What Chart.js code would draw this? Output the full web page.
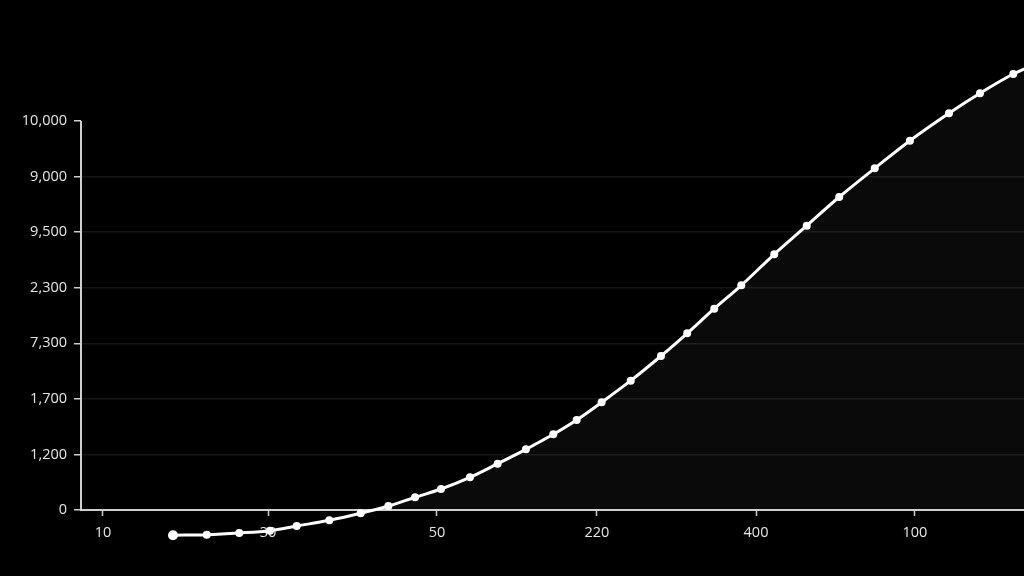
<!DOCTYPE html>
<html>
<head>
<meta charset="utf-8">
<style>
  html, body { margin: 0; padding: 0; background: #000; }
  #wrap { width: 1024px; height: 576px; }
</style>
<script src="https://cdn.jsdelivr.net/npm/chart.js@4/dist/chart.umd.min.js"></script>
</head>
<body>
<div id="wrap"><canvas id="curve"></canvas></div>
<script>
'use strict';

// tick labels as printed on the axes
const yTickLabels = ['0', '1,200', '1,700', '7,300', '2,300', '9,500', '9,000', '10,000'];
const xTickLabels = ['10', '30', '50', '220', '400', '100'];
// where the x ticks sit, in axis units (not evenly spaced)
const xTickValues = [0.1375, 1.169, 2.225, 3.225, 4.219, 5.2125];

// curve points (x in axis units, y in grid steps)
const xValues = [0.575, 0.786, 0.989, 1.181, 1.348, 1.552, 1.748, 1.921, 2.088, 2.250,
  2.431, 2.604, 2.781, 2.952, 3.098, 3.254, 3.436, 3.625, 3.789, 3.958,
  4.127, 4.333, 4.536, 4.739, 4.961, 5.181, 5.425, 5.619, 5.827, 6.03];
const yValues = [-0.455, -0.444, -0.414, -0.372, -0.288, -0.185, -0.059, 0.072, 0.229, 0.378,
  0.588, 0.833, 1.092, 1.362, 1.620, 1.938, 2.327, 2.771, 3.180, 3.622,
  4.043, 4.601, 5.116, 5.633, 6.149, 6.646, 7.139, 7.499, 7.846, 8.10];

function buildPoints() {
  let pts = [];
  for (let i = 0; i < xValues.length; i++) {
    pts.push({ x: xValues[i], y: yValues[i] });
  }
  return pts;
}

// paint the whole canvas black
const blackBg = {
  id: 'blackBg',
  beforeDraw(chart) {
    const ctx = chart.ctx;
    ctx.save();
    ctx.fillStyle = '#000';
    ctx.fillRect(0, 0, chart.width, chart.height);
    ctx.restore();
  }
};

// the y axis line only runs between the first and last labelled tick
const yAxisLine = {
  id: 'yAxisLine',
  afterDraw(chart) {
    const ctx = chart.ctx;
    const y = chart.scales.y;
    const left = chart.chartArea.left;
    ctx.save();
    ctx.strokeStyle = '#cfcfcf';
    ctx.lineWidth = 2;
    ctx.beginPath();
    ctx.moveTo(left, y.getPixelForValue(0) + 1);
    ctx.lineTo(left, y.getPixelForValue(yTickLabels.length - 1));
    ctx.stroke();
    ctx.restore();
  }
};

// Chart.js skips points outside the chart area, so draw the markers ourselves
// at the positions the scales computed
const markers = {
  id: 'markers',
  afterDatasetsDraw(chart) {
    const ctx = chart.ctx;
    const meta = chart.getDatasetMeta(0);
    ctx.save();
    ctx.fillStyle = '#ffffff';
    meta.data.forEach((pt, i) => {
      ctx.beginPath();
      ctx.arc(pt.x, pt.y, i === 0 ? 5 : 4, 0, Math.PI * 2);
      ctx.fill();
    });
    ctx.restore();
  }
};

function setup() {
  let ctx = document.getElementById('curve').getContext('2d');
  Chart.defaults.font.family = '"Open Sans", "Noto Sans", sans-serif';
  Chart.defaults.font.size = 14.5;
  Chart.defaults.color = '#e6e6e6';

  new Chart(ctx, {
    type: 'line',
    data: {
      datasets: [{
        data: buildPoints(),
        borderColor: '#ffffff',
        borderWidth: 3,
        backgroundColor: 'rgba(255,255,255,0.038)',
        fill: 'origin',
        tension: 0.35,
        pointRadius: 0,
        clip: false
      }]
    },
    options: {
      responsive: true,
      maintainAspectRatio: false,
      animation: false,
      layout: { padding: { top: 40, right: 0, bottom: 0, left: 0 } },
      plugins: {
        legend: { display: false },
        tooltip: { enabled: false }
      },
      scales: {
        x: {
          type: 'linear',
          min: 0,
          max: 5.894,
          afterBuildTicks(axis) {
            axis.ticks = xTickValues.map(v => ({ value: v }));
          },
          afterFit(axis) { axis.height = 66; },
          border: { color: '#cfcfcf', width: 2 },
          grid: {
            drawOnChartArea: false,
            drawTicks: true,
            tickLength: 6,
            tickColor: '#cfcfcf',
            tickWidth: 1.5
          },
          ticks: {
            padding: 8,
            maxRotation: 0,
            autoSkip: false,
            callback: function(value, index) { return xTickLabels[index]; }
          }
        },
        y: {
          type: 'linear',
          min: 0,
          max: 8.458,
          afterBuildTicks(axis) {
            axis.ticks = yTickLabels.map((l, i) => ({ value: i }));
          },
          afterFit(axis) { axis.width = 81; },
          border: { display: false },
          grid: {
            color: (c) => c.index === yTickLabels.length - 1 ? 'rgba(0,0,0,0)' : '#161616',
            lineWidth: 1.5,
            drawTicks: true,
            tickLength: 7,
            tickColor: '#cfcfcf',
            tickWidth: 1.5
          },
          ticks: {
            padding: 7,
            callback: function(value) { return yTickLabels[value]; }
          }
        }
      }
    },
    plugins: [blackBg, yAxisLine, markers]
  });
}

window.addEventListener('load', setup);
</script>
</body>
</html>
